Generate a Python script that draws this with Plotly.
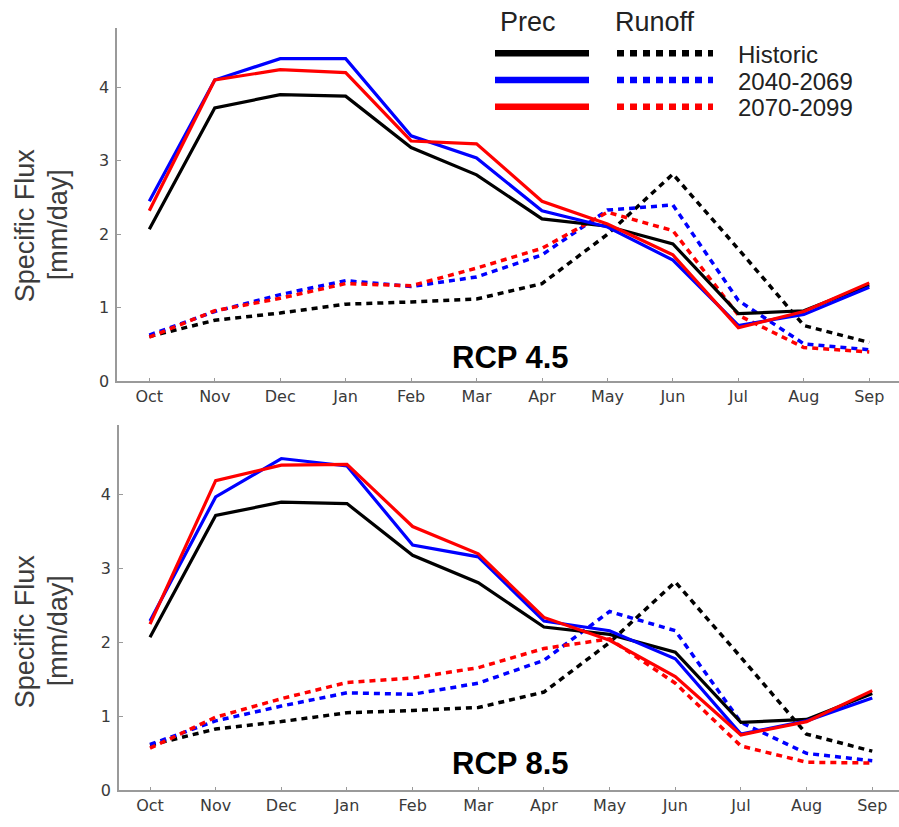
import plotly.graph_objects as go

W, H = 899, 827

months = ["Oct", "Nov", "Dec", "Jan", "Feb", "Mar", "Apr", "May", "Jun", "Jul", "Aug", "Sep"]
period_labels = ["Historic", "2040-2069", "2070-2099"]
period_colors = ["#000000", "#0000ff", "#ff0000"]
y_ticks = [0, 1, 2, 3, 4]

# Historic (same in both panels)
prec_hist = [2.07, 3.72, 3.90, 3.88, 3.18, 2.81, 2.21, 2.11, 1.87, 0.92, 0.96, 1.31]
runoff_hist = [0.61, 0.83, 0.93, 1.05, 1.08, 1.12, 1.33, 2.00, 2.82, 1.80, 0.76, 0.53]

# RCP 4.5
prec_45_mid = [2.45, 4.10, 4.39, 4.39, 3.34, 3.04, 2.32, 2.10, 1.65, 0.76, 0.91, 1.28]
prec_45_late = [2.32, 4.10, 4.24, 4.20, 3.27, 3.23, 2.45, 2.14, 1.72, 0.73, 0.95, 1.34]
runoff_45_mid = [0.63, 0.95, 1.18, 1.37, 1.29, 1.42, 1.72, 2.33, 2.40, 1.10, 0.51, 0.43]
runoff_45_late = [0.60, 0.96, 1.13, 1.33, 1.30, 1.54, 1.81, 2.30, 2.05, 0.90, 0.46, 0.40]

# RCP 8.5
prec_85_mid = [2.29, 3.97, 4.49, 4.39, 3.32, 3.16, 2.29, 2.16, 1.78, 0.76, 0.94, 1.25]
prec_85_late = [2.25, 4.19, 4.40, 4.41, 3.57, 3.20, 2.34, 2.03, 1.54, 0.75, 0.93, 1.35]
runoff_85_mid = [0.62, 0.94, 1.14, 1.32, 1.30, 1.45, 1.76, 2.42, 2.16, 0.92, 0.50, 0.40]
runoff_85_late = [0.57, 0.99, 1.24, 1.46, 1.52, 1.66, 1.92, 2.05, 1.45, 0.60, 0.38, 0.37]

panels = [
    {"name": "RCP 4.5", "prec": [prec_hist, prec_45_mid, prec_45_late],
     "runoff": [runoff_hist, runoff_45_mid, runoff_45_late]},
    {"name": "RCP 8.5", "prec": [prec_hist, prec_85_mid, prec_85_late],
     "runoff": [runoff_hist, runoff_85_mid, runoff_85_late]},
]

# pixel geometry of the two panels
geo = [
    {"x0": 117.3, "x_oct": 149.3, "step": 65.45, "y_top": 28.0, "y_zero": 386.0, "unit": 74.4},
    {"x0": 119.0, "x_oct": 150.0, "step": 65.66, "y_top": 430.7, "y_zero": 800.0, "unit": 74.8},
]

fig = go.Figure()
xidx = list(range(len(months)))
DOT = "6px,5px"

for i, (p, g) in enumerate(zip(panels, geo)):
    ax = "" if i == 0 else str(i + 1)
    xa, ya = "x" + ax, "y" + ax
    for vals, col in zip(p["runoff"], period_colors):
        fig.add_trace(go.Scatter(x=xidx, y=vals, xaxis=xa, yaxis=ya, mode="lines",
                                 line=dict(color=col, width=3.5, dash=DOT),
                                 showlegend=False, hoverinfo="skip"))
    for vals, col in zip(p["prec"], period_colors):
        fig.add_trace(go.Scatter(x=xidx, y=vals, xaxis=xa, yaxis=ya, mode="lines",
                                 line=dict(color=col, width=3.2),
                                 showlegend=False, hoverinfo="skip"))
    xr = [-(g["x_oct"] - g["x0"]) / g["step"], (W - g["x_oct"]) / g["step"]]
    yr = [0, (g["y_zero"] - g["y_top"]) / g["unit"]]
    axis_common = dict(showgrid=False, zeroline=False, showline=True, linecolor="#9a9a9a",
                       linewidth=1.6, ticks="inside", ticklen=4, tickcolor="#9a9a9a",
                       tickfont=dict(family="DejaVu Sans", size=16, color="#3a3a3a"))
    fig.update_layout(**{
        "xaxis" + ax: dict(domain=[g["x0"] / W, 1.0], range=xr, anchor=ya,
                           tickmode="array", tickvals=xidx, ticktext=months, **axis_common),
        "yaxis" + ax: dict(domain=[1 - g["y_zero"] / H, 1 - g["y_top"] / H], range=yr, anchor=xa,
                           tickmode="array", tickvals=y_ticks, ticktext=[str(t) for t in y_ticks],
                           ticklabelstandoff=3, **axis_common),
    })
    # panel title
    fig.add_annotation(x=510 / W, y=1 - ((g["y_zero"] - 24) if i == 0 else (g["y_zero"] - 27)) / H,
                       xref="paper", yref="paper", text="<b>" + p["name"] + "</b>", showarrow=False,
                       font=dict(family="Liberation Sans", size=31, color="#000"),
                       xanchor="center", yanchor="middle")
    # y label
    yc = 228 if i == 0 else 639
    fig.add_annotation(x=25 / W, y=1 - yc / H, xref="paper", yref="paper", text="Specific Flux",
                       textangle=-90, showarrow=False, xanchor="center", yanchor="middle",
                       font=dict(family="Liberation Sans", size=27, color="#3c3c3c"))
    fig.add_annotation(x=58 / W, y=1 - yc / H, xref="paper", yref="paper", text="[mm/day]",
                       textangle=-90, showarrow=False, xanchor="center", yanchor="middle",
                       font=dict(family="Liberation Sans", size=27, color="#3c3c3c"))

# custom legend (top panel)
head_font = dict(family="Liberation Sans", size=27, color="#222")
row_font = dict(family="Liberation Sans", size=24, color="#222")
fig.add_annotation(x=498 / W, y=1 - 22 / H, xref="paper", yref="paper", text="Prec", showarrow=False,
                   xanchor="left", yanchor="middle", font=head_font)
fig.add_annotation(x=613 / W, y=1 - 22 / H, xref="paper", yref="paper", text="Runoff", showarrow=False,
                   xanchor="left", yanchor="middle", font=head_font)
row_y = [54, 81, 108]
for lab, col, ry in zip(period_labels, period_colors, row_y):
    fig.add_shape(type="line", xref="paper", yref="paper", x0=495 / W, x1=589 / W,
                  y0=1 - ry / H, y1=1 - ry / H, line=dict(color=col, width=6.5))
    fig.add_shape(type="line", xref="paper", yref="paper", x0=617 / W, x1=713 / W,
                  y0=1 - ry / H, y1=1 - ry / H, line=dict(color=col, width=6.5, dash="7px,6px"))
    fig.add_annotation(x=736 / W, y=1 - (ry + 1) / H, xref="paper", yref="paper", text=lab,
                       showarrow=False, xanchor="left", yanchor="middle", font=row_font)

fig.update_layout(width=W, height=H, margin=dict(l=0, r=0, t=0, b=0),
                  paper_bgcolor="white", plot_bgcolor="white", showlegend=False)

fig.write_html("out.html")
